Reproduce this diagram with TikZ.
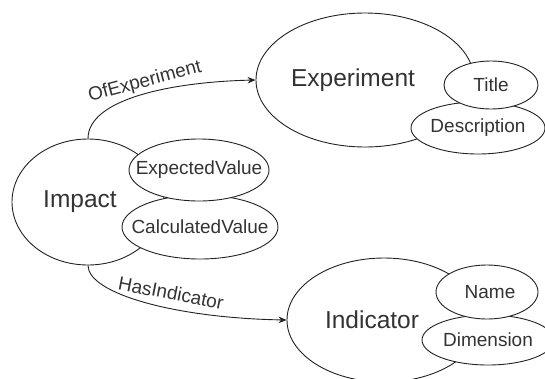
\documentclass[tikz,border=0pt]{standalone}
\usepackage{fontspec}
\setmainfont{Liberation Sans}
\usetikzlibrary{shapes.geometric,arrows.meta}
\definecolor{ink}{HTML}{333333}
\definecolor{edge}{HTML}{222222}
\newcommand{\zwtext}[2][0pt]{\makebox[0pt]{\hspace*{#1}#2}}
\tikzset{
  oval/.style={ellipse, draw=edge, fill=white, line width=0.9pt, inner sep=0pt, text=ink},
  big/.style={oval, font=\fontsize{24.5}{28}\selectfont},
  small/.style={oval, font=\fontsize{19}{22}\selectfont},
  edgetext/.style={text=ink, font=\fontsize{19}{22}\selectfont, inner sep=0pt},
  link/.style={draw=edge, line width=0.9pt, -{Stealth[length=8pt,width=6.5pt]}},
}
\begin{document}
\begin{tikzpicture}[x=1pt,y=-1pt]
\useasboundingbox (0,0) rectangle (545,378);
% Experiment group
\node[big, minimum width=218pt, minimum height=134pt] (exp) at (365,80) {\zwtext[-24pt]{Experiment}};
\node[small, minimum width=134pt, minimum height=52pt] (desc) at (478,128) {\zwtext{Description}};
\node[small, minimum width=94pt, minimum height=48pt] (title) at (491,85) {\zwtext{Title}};
% Impact group
\node[big, minimum width=152pt, minimum height=126pt] (imp) at (88,202) {\zwtext[-16pt]{Impact}};
\node[small, minimum width=156pt, minimum height=64pt] (calc) at (200,227) {\zwtext{CalculatedValue}};
\node[small, minimum width=140pt, minimum height=62pt] (expv) at (199,170) {\zwtext{ExpectedValue}};
% Indicator group
\node[big, minimum width=194pt, minimum height=124pt] (ind) at (384,320) {\zwtext[-24pt]{Indicator}};
\node[small, minimum width=132pt, minimum height=50pt] (dim) at (488,340) {\zwtext{Dimension}};
\node[small, minimum width=102pt, minimum height=54pt] (name) at (487,292) {\zwtext[6pt]{Name}};
% connectors
\draw[link] (imp.north) .. controls +(0,-39) and +(-86,2) .. (exp.west);
\node[edgetext, rotate=15] (ofexp) at (145,82) {OfExperiment};
\draw[link] (imp.south) .. controls +(0,28) and +(-112,-2) .. (ind.west);
\node[edgetext, rotate=-11] (hasind) at (171,293) {HasIndicator};
\end{tikzpicture}
\end{document}
